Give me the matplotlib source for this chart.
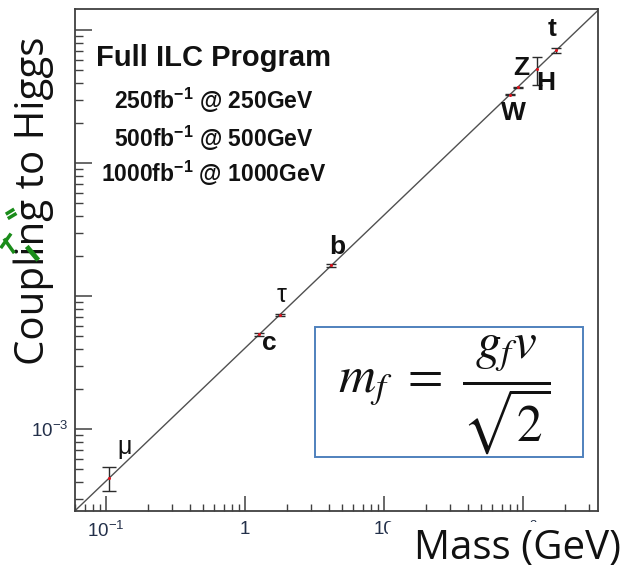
import matplotlib
matplotlib.use("Agg")
import matplotlib.pyplot as plt
from matplotlib.patches import Rectangle
from matplotlib.lines import Line2D

# ---------------- data ----------------
particles = ["μ", "c", "τ", "b", "W", "Z", "H", "t"]
mass_gev = [0.1057, 1.27, 1.777, 4.18, 80.4, 91.2, 125.0, 173.0]
coupling = [4.3e-4, 5.16e-3, 7.22e-3, 1.70e-2, 0.327, 0.371, 0.508, 0.703]
coupling_err = [0.9e-4, 0.12e-3, 0.15e-3, 0.35e-3, 0.004, 0.004, 0.12, 0.035]
vev_gev = 246.0
mass_range = [0.0598, 346.0]
coupling_range = [2.42e-4, 1.44]
x_tick_values = [0.1, 1, 10, 100]
x_tick_labels = [r"$\mathdefault{10^{-1}}$", "1", "10", r"$\mathdefault{10^{2}}$"]
y_tick_values = [1e-3, 1e-2, 1e-1, 1]
y_tick_labels = [r"$\mathdefault{10^{-3}}$", "", "", ""]  # others hidden behind the slide label
program_title = "Full ILC Program"
program_lines = [r"250fb$^{\mathdefault{-1}}$ @ 250GeV",
                 r"500fb$^{\mathdefault{-1}}$ @ 500GeV",
                 r"1000fb$^{\mathdefault{-1}}$ @ 1000GeV"]

plt.rcParams["font.family"] = ["Liberation Sans", "DejaVu Sans"]

W_PX, H_PX = 633, 584
fig = plt.figure(figsize=(W_PX / 100, H_PX / 100), dpi=100)


def fx(px):
    return px / W_PX


def fy(py):
    return 1 - py / H_PX


ax = fig.add_axes([fx(75), fy(511), fx(598) - fx(75), fy(9) - fy(511)])
ax.set_xscale("log")
ax.set_yscale("log")
ax.set_xlim(*mass_range)
ax.set_ylim(*coupling_range)

# diagonal m = g v line
line_x = mass_range
line_y = [m / vev_gev for m in line_x]
ax.plot(line_x, line_y, color="#505050", lw=1.0, zorder=2)

# data points with error bars
for i, (m, g, e) in enumerate(zip(mass_gev, coupling, coupling_err)):
    ax.errorbar([m], [g], yerr=[e], fmt="none", ecolor="#2b2b2b",
                elinewidth=1.0, capsize=5 if i == 0 else 3.5, capthick=1.0, zorder=3)
ax.plot(mass_gev, coupling, "o", color="#e0141e", ms=2.2, mec="none", zorder=4)

# particle labels
label_bold = [False, True, False, True, True, True, True, True]
label_offset_px = [(15, 31), (10, -9), (2, 20), (6, 18), (4, -18), (3.5, 19), (9, -14), (-4, 21)]
for name, m, g, bold, (dx, dy) in zip(particles, mass_gev, coupling, label_bold, label_offset_px):
    ax.annotate(name, (m, g), xytext=(dx * 0.72, dy * 0.72), textcoords="offset points",
                ha="center", va="center", fontsize=19 if bold else 18,
                fontweight="bold" if bold else "normal", color="#111111", zorder=5)

# spines / ticks
for side in ["left", "bottom", "top", "right"]:
    ax.spines[side].set_color("#404040")
    ax.spines[side].set_linewidth(1.3)
ax.tick_params(which="both", direction="in", top=False, right=False, colors="#404040",
               labelcolor="#23304a", labelsize=13.5)
ax.tick_params(axis="y", which="major", length=12, width=1.1, pad=5)
ax.tick_params(axis="y", which="minor", length=6, width=1.0)
ax.tick_params(axis="x", which="major", length=11, width=1.1, pad=7)
ax.tick_params(axis="x", which="minor", length=5, width=1.0)
ax.set_xticks(x_tick_values)
ax.set_xticklabels(x_tick_labels)
ax.set_yticks(y_tick_values)
ax.set_yticklabels(y_tick_labels)

# program text
ax.text(fx(214), fy(66), program_title, transform=fig.transFigure, ha="center",
        va="baseline", fontsize=21, fontweight="bold", color="#111111")
for txt, base in zip(program_lines, [109, 147, 182]):
    ax.text(fx(214), fy(base), txt, transform=fig.transFigure, ha="center",
            va="baseline", fontsize=16.5, fontweight="bold", color="#111111")

# formula box
fig.add_artist(Rectangle((fx(315), fy(457)), fx(583) - fx(315), fy(327) - fy(457),
                         transform=fig.transFigure, facecolor="white",
                         edgecolor="#4f81bd", lw=1.4, zorder=5))
fig.text(fx(444), fy(395), r"$m_f\ =\ \dfrac{g_f v}{\sqrt{2}}$", ha="center", va="center",
         fontsize=37, math_fontfamily="stix", color="#111111", zorder=6)

# overlaid slide labels (white cover box for the x label)
fig.add_artist(Rectangle((fx(388), 0), 1 - fx(388), fy(522), transform=fig.transFigure,
                         facecolor="white", edgecolor="none", zorder=5))
fig.text(fx(518), fy(559), "Mass (GeV)", ha="center", va="baseline", fontsize=29,
         family="Open Sans", color="#111111", zorder=6)
fig.text(fx(34), fy(201), "Coupling to Higgs", ha="center", va="center", rotation=90,
         fontsize=29, family="Open Sans", color="#111111", zorder=6)

# green remnants
for (x0, y0, x1, y1, lw) in [(7.3, 213.3, 12.7, 210, 2.5), (9.3, 217.7, 15, 214.3, 2.5),
                             (1.7, 246.7, 10, 235, 2.5), (5, 240, 13.3, 251.7, 2.5),
                             (28.3, 248.3, 36.7, 258.3, 3.5)]:
    fig.add_artist(Line2D([fx(x0), fx(x1)], [fy(y0), fy(y1)], transform=fig.transFigure,
                          color="#1a8c1a", lw=lw, zorder=7))

fig.savefig("out.png", dpi=100)
